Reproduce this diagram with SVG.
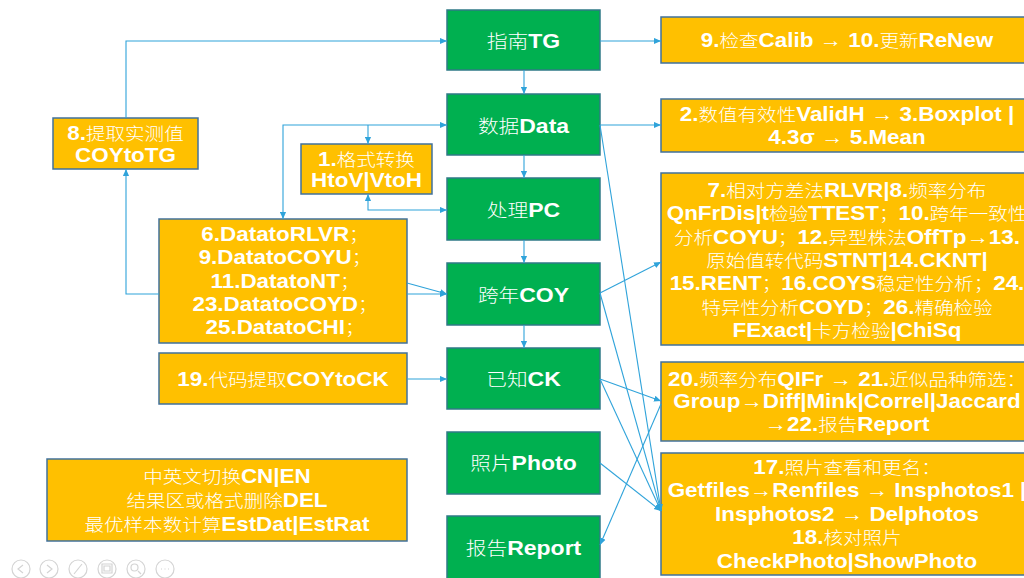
<svg xmlns="http://www.w3.org/2000/svg" width="1024" height="578" viewBox="0 0 1024 578">
<defs>
<style>
.g rect{fill:#00B050;stroke:#2F7A86;stroke-width:1.5}
.o rect{fill:#FFC000;stroke:#41719C;stroke-width:1.5}
text{font-family:"Liberation Sans",Arial,"Noto Sans CJK SC",sans-serif;font-weight:bold;font-size:19.5px;fill:#fff;text-anchor:middle}
.g text{font-size:20px}
.c{font-family:"Noto Sans CJK SC","Noto Sans CJK JP",sans-serif;font-weight:300;font-size:17px}
.g .c{font-size:18px}
.conn path{stroke:#2FA3DA;stroke-width:1.1;fill:none;marker-end:url(#a)}
.conn path.s{marker-start:url(#a)}
.tb circle{fill:none;stroke:#D4D4D4;stroke-width:1.2}
.tb path{fill:none;stroke:#D4D4D4;stroke-width:1.2}
</style>
<marker id="a" viewBox="0 0 8 8" refX="8" refY="4" markerWidth="7" markerHeight="7" markerUnits="userSpaceOnUse" orient="auto-start-reverse"><path d="M0,0.5 L8,4 L0,7.5 z" fill="#2FA3DA"/></marker>
</defs>
<rect width="1024" height="578" fill="#fff"/>

<g id="TG" class="g"><rect x="447" y="10" width="153" height="60"/><text transform="translate(523.5 0) scale(1.15 1)" y="48"><tspan class="c">指南</tspan>TG</text></g>
<g id="Data" class="g"><rect x="447" y="94" width="153" height="61"/><text transform="translate(523.5 0) scale(1.15 1)" y="133"><tspan class="c">数据</tspan>Data</text></g>
<g id="PC" class="g"><rect x="447" y="178" width="153" height="62"/><text transform="translate(523.5 0) scale(1.15 1)" y="217"><tspan class="c">处理</tspan>PC</text></g>
<g id="COY" class="g"><rect x="447" y="263" width="153" height="62"/><text transform="translate(523.5 0) scale(1.15 1)" y="302"><tspan class="c">跨年</tspan>COY</text></g>
<g id="CK" class="g"><rect x="447" y="348" width="153" height="61"/><text transform="translate(523.5 0) scale(1.15 1)" y="386"><tspan class="c">已知</tspan>CK</text></g>
<g id="Photo" class="g"><rect x="447" y="432" width="153" height="62"/><text transform="translate(523.5 0) scale(1.15 1)" y="470"><tspan class="c">照片</tspan>Photo</text></g>
<g id="Report" class="g"><rect x="447" y="516" width="153" height="70"/><text transform="translate(523.5 0) scale(1.15 1)" y="555"><tspan class="c">报告</tspan>Report</text></g>

<g id="R1" class="o"><rect x="661" y="17" width="400" height="46"/>
<text transform="translate(847 0) scale(1.15 1)" y="47">9.<tspan class="c">检查</tspan>Calib → 10.<tspan class="c">更新</tspan>ReNew</text></g>
<g id="R2" class="o"><rect x="661" y="99" width="400" height="53"/>
<text transform="translate(847 0) scale(1.15 1)" y="121">2.<tspan class="c">数值有效性</tspan>ValidH → 3.Boxplot |</text>
<text transform="translate(847 0) scale(1.15 1)" y="144">4.3σ → 5.Mean</text></g>
<g id="R3" class="o"><rect x="661" y="173" width="400" height="172"/>
<text transform="translate(847 0) scale(1.15 1)" y="197">7.<tspan class="c">相对方差法</tspan>RLVR|8.<tspan class="c">频率分布</tspan></text>
<text transform="translate(847 0) scale(1.15 1)" y="220.3">QnFrDis|t<tspan class="c">检验</tspan>TTEST<tspan class="c">；</tspan>10.<tspan class="c">跨年一致性</tspan></text>
<text transform="translate(847 0) scale(1.15 1)" y="243.6"><tspan class="c">分析</tspan>COYU<tspan class="c">；</tspan>12.<tspan class="c">异型株法</tspan>OffTp→13.</text>
<text transform="translate(847 0) scale(1.15 1)" y="267"><tspan class="c">原始值转代码</tspan>STNT|14.CKNT|</text>
<text transform="translate(847 0) scale(1.15 1)" y="290.3">15.RENT<tspan class="c">；</tspan>16.COYS<tspan class="c">稳定性分析；</tspan>24.</text>
<text transform="translate(847 0) scale(1.15 1)" y="313.6"><tspan class="c">特异性分析</tspan>COYD<tspan class="c">；</tspan>26.<tspan class="c">精确检验</tspan></text>
<text transform="translate(847 0) scale(1.15 1)" y="337">FExact|<tspan class="c">卡方检验</tspan>|ChiSq</text></g>
<g id="R4" class="o"><rect x="661" y="362" width="400" height="79"/>
<text transform="translate(847 0) scale(1.15 1)" y="386">20.<tspan class="c">频率分布</tspan>QIFr → 21.<tspan class="c">近似品种筛选：</tspan></text>
<text transform="translate(847 0) scale(1.15 1)" y="408.5">Group→Diff|Mink|Correl|Jaccard</text>
<text transform="translate(847 0) scale(1.15 1)" y="431">→22.<tspan class="c">报告</tspan>Report</text></g>
<g id="R5" class="o"><rect x="661" y="453" width="400" height="122"/>
<text transform="translate(847 0) scale(1.15 1)" y="474">17.<tspan class="c">照片查看和更名：</tspan></text>
<text transform="translate(847 0) scale(1.15 1)" y="497.5">Getfiles→Renfiles → Insphotos1 |</text>
<text transform="translate(847 0) scale(1.15 1)" y="521">Insphotos2 → Delphotos</text>
<text transform="translate(847 0) scale(1.15 1)" y="544.5">18.<tspan class="c">核对照片</tspan></text>
<text transform="translate(847 0) scale(1.15 1)" y="568">CheckPhoto|ShowPhoto</text></g>

<g id="L8" class="o"><rect x="53" y="118" width="145" height="51"/>
<text transform="translate(125.5 0) scale(1.15 1)" y="140">8.<tspan class="c">提取实测值</tspan></text>
<text transform="translate(125.5 0) scale(1.15 1)" y="162">COYtoTG</text></g>
<g id="L1" class="o"><rect x="301" y="144" width="131" height="50"/>
<text transform="translate(366.5 0) scale(1.15 1)" y="166">1.<tspan class="c">格式转换</tspan></text>
<text transform="translate(366.5 0) scale(1.15 1)" y="187">HtoV|VtoH</text></g>
<g id="L6" class="o"><rect x="159" y="219" width="248" height="124"/>
<text transform="translate(285 0) scale(1.15 1)" y="241">6.DatatoRLVR<tspan class="c">；</tspan></text>
<text transform="translate(285 0) scale(1.15 1)" y="264.3">9.DatatoCOYU<tspan class="c">；</tspan></text>
<text transform="translate(285 0) scale(1.15 1)" y="287.6">11.DatatoNT<tspan class="c">；</tspan></text>
<text transform="translate(285 0) scale(1.15 1)" y="311">23.DatatoCOYD<tspan class="c">；</tspan></text>
<text transform="translate(285 0) scale(1.15 1)" y="334.3">25.DatatoCHI<tspan class="c">；</tspan></text></g>
<g id="L19" class="o"><rect x="159" y="353" width="248" height="51"/>
<text transform="translate(283 0) scale(1.15 1)" y="386">19.<tspan class="c">代码提取</tspan>COYtoCK</text></g>
<g id="LB" class="o"><rect x="47" y="459" width="360" height="82"/>
<text transform="translate(227 0) scale(1.15 1)" y="483"><tspan class="c">中英文切换</tspan>CN|EN</text>
<text transform="translate(227 0) scale(1.15 1)" y="507"><tspan class="c">结果区或格式删除</tspan>DEL</text>
<text transform="translate(227 0) scale(1.15 1)" y="531"><tspan class="c">最优样本数计算</tspan>EstDat|EstRat</text></g>

<g id="connectors" class="conn">
<path d="M126,118 V41 H447"/>
<path d="M159,294 H126 V169"/>
<path d="M407,294 H447"/>
<path d="M407,283 L447,294"/>
<path class="s" d="M283,219 V125 H447"/>
<path d="M368,125 V144"/>
<path class="s" d="M368,194 V210 H447"/>
<path d="M407,379 H447"/>
<path d="M524,70 V94"/>
<path d="M524,155 V178"/>
<path d="M524,240 V263"/>
<path d="M524,325 V348"/>
<path d="M600,41 H661"/>
<path d="M600,125 H661"/>
<path d="M600,125 L661,511"/>
<path d="M600,293 L661,262"/>
<path d="M600,293 L661,511"/>
<path d="M600,379 L661,401"/>
<path d="M600,379 L661,511"/>
<path d="M600,463 L661,511"/>
<path d="M661,404 L600,545"/>
</g>

<g id="toolbar" class="tb">
<circle cx="21" cy="569" r="9"/><path d="M23,565 L18,569 L23,573"/>
<circle cx="49" cy="569" r="9"/><path d="M47,565 L52,569 L47,573"/>
<circle cx="78" cy="569" r="9"/><path d="M74,574 L82,564"/>
<circle cx="107" cy="569" r="9"/><path d="M102,564 H112 V573 H102 Z M104,566 H110 V571 H104 Z"/>
<circle cx="136" cy="569" r="9"/><path d="M138,571 L141,574"/><circle cx="134.5" cy="567.5" r="3.5"/>
<circle cx="165" cy="569" r="9"/><path d="M161,569 h1 M164.5,569 h1 M168,569 h1"/>
</g>
</svg>
